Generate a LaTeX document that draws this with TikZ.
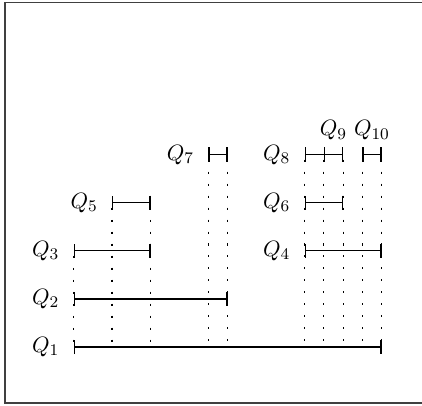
\documentclass[tikz,border=0pt]{standalone}
\usepackage{amsmath,amssymb}
\usepackage{tikz}
\usetikzlibrary{arrows.meta,positioning,calc}

\begin{document}
\begin{tikzpicture}[x=1cm/3,y=1cm/3,
    every node/.style={font=\fontsize{11}{13}\selectfont},
    seg/.style={semithick,{Bar[width=7pt]}-{Bar[width=7pt]}},
    guide/.style={line width=0.55pt,dash pattern=on 1pt off 4.9pt,dash phase=-2.5pt},
    lab/.style={left=3.5pt},
    toplab/.style={above=3.5pt}]
  \useasboundingbox (-3.82,-3.01) rectangle (18.1,18.03);
  \draw[black!75,line width=0.8pt] (-3.56,-2.9) rectangle (18.6,17.9);

  % end points of the intervals
  \foreach \i/\a/\b/\h in {1/0/16/0, 2/0/8/2.5, 3/0/4/5, 4/12/16/5,
      5/2/4/7.5, 6/12/14/7.5, 7/7/8/10, 8/12/14/10, 9/13/14/10, 10/15/16/10} {
    \coordinate (s\i) at (\a,\h);
    \coordinate (e\i) at (\b,\h);
  }

  % guides down to Q_1
  \foreach \p in {s3,s5,e5,s7,e7,s8,s9,e8,s10,e10}
    \draw[guide] (\p) -- (\p |- s1);

  % intervals
  \foreach \i in {1,...,10}
    \draw[seg] (s\i) -- (e\i);

  \foreach \i in {1,...,8}
    \node[lab] (q\i) at (s\i) {$Q_{\i}$};
  \node[toplab] (q9) at ($(s9)!0.5!(e9)$) {$Q_9$};
  \node[toplab] (q10) at ($(s10)!0.5!(e10)$) {$Q_{10}$};
\end{tikzpicture}
\end{document}
